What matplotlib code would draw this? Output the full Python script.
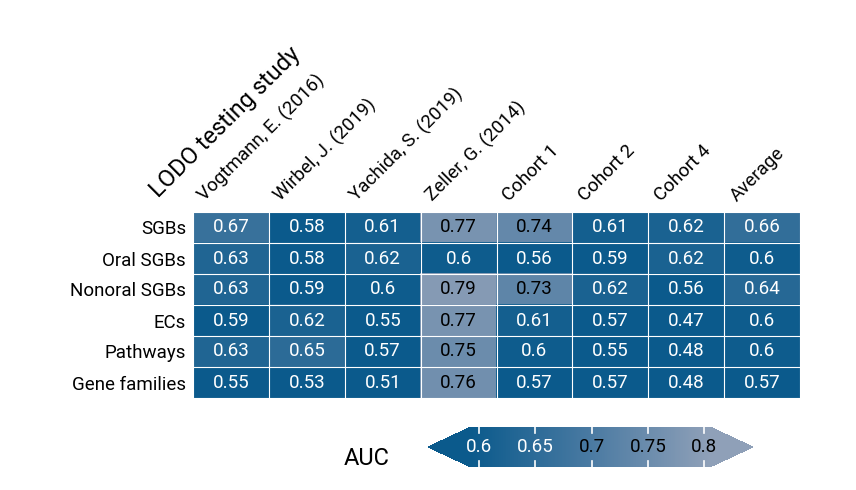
import matplotlib
matplotlib.use("Agg")
import matplotlib.pyplot as plt
import numpy as np
from matplotlib.colors import LinearSegmentedColormap, Normalize

plt.rcParams["font.family"] = "Roboto"

studies = ["Vogtmann, E. (2016)", "Wirbel, J. (2019)", "Yachida, S. (2019)", "Zeller, G. (2014)",
           "Cohort 1", "Cohort 2", "Cohort 4", "Average"]
features = ["SGBs", "Oral SGBs", "Nonoral SGBs", "ECs", "Pathways", "Gene families"]
auc = np.array([
    [0.67, 0.58, 0.61, 0.77, 0.74, 0.61, 0.62, 0.66],
    [0.63, 0.58, 0.62, 0.6, 0.56, 0.59, 0.62, 0.6],
    [0.63, 0.59, 0.6, 0.79, 0.73, 0.62, 0.56, 0.64],
    [0.59, 0.62, 0.55, 0.77, 0.61, 0.57, 0.47, 0.6],
    [0.63, 0.65, 0.57, 0.75, 0.6, 0.55, 0.48, 0.6],
    [0.55, 0.53, 0.51, 0.76, 0.57, 0.57, 0.48, 0.57],
])
cbar_ticks = [0.6, 0.65, 0.7, 0.75, 0.8]

cmap = LinearSegmentedColormap.from_list("c", ["#0b5a8c", "#4a7aa2", "#8fa0b8"])
cmap.set_under("#0b5a8c")
cmap.set_over("#8fa0b8")
norm = Normalize(vmin=0.593, vmax=0.805)

fig = plt.figure(figsize=(8.56, 4.90), dpi=100)
W, H = 856, 490
ax = fig.add_axes([193/W, 1-398/H, (800-193)/W, (398-212)/H])
ax.imshow(auc, cmap=cmap, norm=norm, aspect="auto")
for i in range(auc.shape[0]):
    for j in range(auc.shape[1]):
        v = auc[i, j]
        ax.text(j, i, f"{v:g}", ha="center", va="center", fontsize=13.5,
                color="black" if v >= 0.7 else "white")
ax.set_xticks(np.arange(len(studies)) - 0.3)
ax.set_xticklabels(studies, rotation=45, ha="left", rotation_mode="anchor", fontsize=13.5)
ax.xaxis.tick_top()
ax.set_yticks(np.arange(len(features)))
ax.set_yticklabels(features, fontsize=13.5)
ax.tick_params(length=0, pad=5)
for s in ax.spines.values():
    s.set_visible(False)
ax.set_xticks(np.arange(len(studies) + 1) - 0.5, minor=True)
ax.set_yticks(np.arange(len(features) + 1) - 0.5, minor=True)
ax.grid(which="minor", color="white", linewidth=0.8)
ax.tick_params(which="minor", length=0)
fig.text(162/W, 1-202/H, "LODO testing study", rotation=45, fontsize=17, ha="left", va="bottom",
         rotation_mode="anchor")

cax = fig.add_axes([428/W, 1-467/H, (753-428)/W, 40/H])
sm = plt.cm.ScalarMappable(cmap=cmap, norm=norm)
cb = fig.colorbar(sm, cax=cax, orientation="horizontal", extend="both", extendfrac=0.18)
cb.outline.set_visible(False)
cb.set_ticks([])
tr = cax.get_xaxis_transform()
for t in cbar_ticks:
    cax.plot([t, t], [0, 0.15], color="white", lw=1.2, transform=tr)
    cax.plot([t, t], [0.85, 1], color="white", lw=1.2, transform=tr)
    cax.text(t, 0.5, f"{t:g}", ha="center", va="center", fontsize=13.5,
             color="black" if t >= 0.7 else "white", transform=tr)
fig.text(367/W, 1-458/H, "AUC", fontsize=17, ha="center", va="center")
fig.savefig("out.png", dpi=100)
